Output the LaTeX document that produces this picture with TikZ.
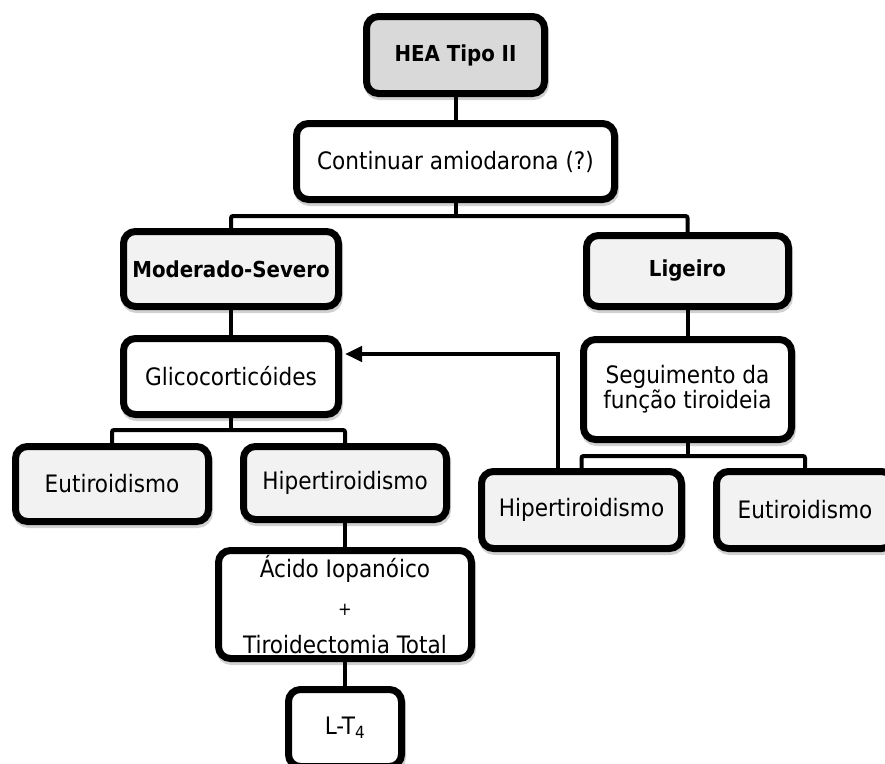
\documentclass[tikz,border=0pt]{standalone}
\usepackage{fontspec}
\setmainfont{DejaVu Sans Condensed}
\usetikzlibrary{shadows,arrows.meta}
\definecolor{gdark}{HTML}{D9D9D9}
\definecolor{glight}{HTML}{F2F2F2}
\begin{document}
\begin{tikzpicture}[x=1pt,y=-1pt,
  box/.style={draw=black, line width=7pt, rounded corners=12pt, align=center,
    inner sep=0pt, font=\fontsize{24}{29}\selectfont,
    drop shadow={shadow xshift=1pt, shadow yshift=-3pt, fill=black!18, draw=black!18, line width=7pt, opacity=1}},
  outcome/.style={box, fill=glight},
  action/.style={box, fill=white},
  boldtext/.style={font=\fontsize{22}{27}\selectfont\bfseries},
  conn/.style={draw=black, line width=4pt},
  elbow/.style={conn, rounded corners=2pt},
  back/.style={conn, -{Triangle[length=17pt,width=15pt]}, shorten >=3pt}
]
\useasboundingbox (0,0) rectangle (885,763);
\clip (0,0) rectangle (885,763);
\coordinate (b1) at (455,216);
\coordinate (b2) at (231,430);
\coordinate (b3) at (688,456);
\coordinate (ac) at (558,354);
% nodes
\node[box, fill=gdark, boldtext, minimum width=178pt, minimum height=77pt] (hea) at (455.5,55) {HEA Tipo II};
\node[action, minimum width=318pt, minimum height=76pt] (cont) at (455.5,161.5) {Continuar amiodarona (?)};
\node[outcome, boldtext, minimum width=215pt, minimum height=75pt] (mod) at (231,269) {Moderado-Severo};
\node[action, minimum width=215pt, minimum height=76pt] (gli) at (231,376.5) {Glicocorticóides};
\node[outcome, boldtext, minimum width=202pt, minimum height=71pt] (lig) at (687.5,271) {Ligeiro};
\node[action, font=\fontsize{24}{25}\selectfont, minimum width=208pt, minimum height=100pt] (seg) at (687.5,389.5) {Seguimento da\\função tiroideia};
\node[outcome, minimum width=200pt, minimum height=77pt] (hipR) at (581.5,510) {Hipertiroidismo};
\node[outcome, minimum width=177pt, minimum height=77pt] (eutR) at (805,510) {Eutiroidismo};
\node[outcome, minimum width=193pt, minimum height=75pt] (eutL) at (112,484) {Eutiroidismo};
\node[outcome, minimum width=203pt, minimum height=73pt] (hipL) at (345,483) {Hipertiroidismo};
\node[action, font=\fontsize{24}{38}\selectfont, minimum width=253pt, minimum height=108pt] (acid) at (345,604.5) {Ácido Iopanóico\\{\fontsize{18}{38}\selectfont +}\\Tiroidectomia Total};
\node[action, minimum width=113pt, minimum height=77pt] (lt) at (345,728) {L-T\textsubscript{4}};
% connectors
\draw[conn] (hea.south) -- (cont.north);
\draw[conn] (cont.south) -- (cont.south |- b1);
\draw[elbow] (mod.north) -- (mod.north |- b1) -- (lig.north |- b1) -- (lig.north);
\draw[conn] (mod.south) -- (gli.north);
\draw[conn] (lig.south) -- (seg.north);
\draw[conn] (gli.south) -- (gli.south |- b2);
\draw[elbow] (eutL.north) -- (eutL.north |- b2) -- (hipL.north |- b2) -- (hipL.north);
\draw[conn] (hipL.south) -- (acid.north);
\draw[conn] (acid.south) -- (lt.north);
\draw[conn] (seg.south) -- (seg.south |- b3);
\draw[elbow] (hipR.north) -- (hipR.north |- b3) -- (eutR.north |- b3) -- (eutR.north);
\draw[back] ([xshift=-23.5pt]hipR.north) |- (gli.east |- ac);
\end{tikzpicture}
\end{document}
